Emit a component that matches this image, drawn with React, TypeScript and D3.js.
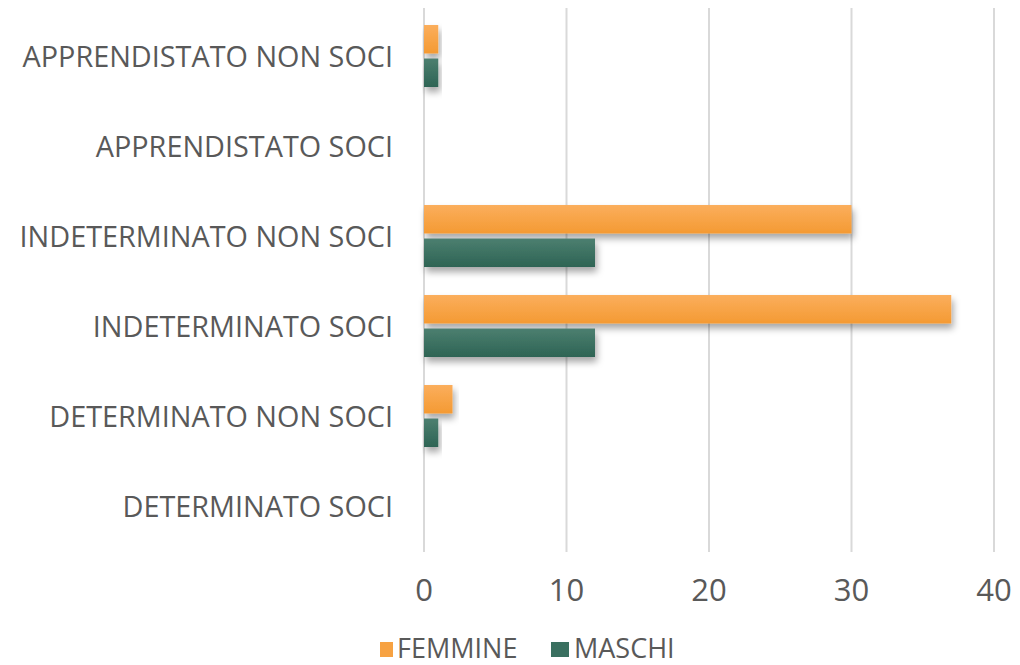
import React from "react";
import * as d3 from "d3";

const categories = [
  "APPRENDISTATO NON SOCI",
  "APPRENDISTATO SOCI",
  "INDETERMINATO NON SOCI",
  "INDETERMINATO SOCI",
  "DETERMINATO NON SOCI",
  "DETERMINATO SOCI",
];
const femmine = [1, 0, 30, 37, 2, 0];
const maschi = [1, 0, 12, 12, 1, 0];
const seriesNames = ["FEMMINE", "MASCHI"];
const xTicks = [0, 10, 20, 30, 40];

const W = 1020;
const H = 665;
const FONT = "'Open Sans', 'DejaVu Sans Condensed', sans-serif";
const TEXT = "#595959";

export default function App() {
  const x = d3.scaleLinear().domain([0, 40]).range([424, 994]);
  const y = d3.scaleBand<string>().domain(categories).range([12, 552]);
  // two bars of ~28px with a 5px gap inside each 90px band
  const inner = d3
    .scaleBand<string>()
    .domain(seriesNames)
    .range([13, 75])
    .paddingInner(0.15);

  const series = [
    { name: "FEMMINE", values: femmine, fill: "url(#gOrange)", key: "#f7a242" },
    { name: "MASCHI", values: maschi, fill: "url(#gGreen)", key: "#3a7060" },
  ];

  return (
    <svg
      width={W}
      height={H}
      style={{ position: "absolute", left: 0, top: 0, background: "#fff" }}
    >
      <defs>
        <linearGradient id="gOrange" x1="0" y1="0" x2="0" y2="1">
          <stop offset="0" stopColor="#fbae5c" />
          <stop offset="1" stopColor="#f49a33" />
        </linearGradient>
        <linearGradient id="gGreen" x1="0" y1="0" x2="0" y2="1">
          <stop offset="0" stopColor="#4c7f70" />
          <stop offset="1" stopColor="#2e6454" />
        </linearGradient>
        <filter id="shadow" x="-10%" y="-30%" width="130%" height="190%">
          <feDropShadow dx="2" dy="5" stdDeviation="3.5" floodColor="#000" floodOpacity="0.35" />
        </filter>
      </defs>

      {/* grid */}
      {xTicks.map((t) => (
        <line
          key={"g" + t}
          x1={x(t)}
          x2={x(t)}
          y1={8}
          y2={552}
          stroke="#d9d9d9"
          strokeWidth={2}
        />
      ))}

      {/* bars */}
      {categories.map((c, i) => (
        <g key={c}>
          {series.map((s) =>
            s.values[i] > 0 ? (
              <rect
                key={s.name}
                x={x(0)}
                y={(y(c) as number) + (inner(s.name) as number)}
                width={x(s.values[i]) - x(0)}
                height={inner.bandwidth()}
                fill={s.fill}
                filter="url(#shadow)"
              />
            ) : null
          )}
        </g>
      ))}

      {/* category labels */}
      {categories.map((c) => (
        <text
          key={"l" + c}
          x={393}
          y={(y(c) as number) + y.bandwidth() / 2 + 10}
          textAnchor="end"
          fontFamily={FONT}
          fontSize={28.8}
          fill={TEXT}
        >
          {c}
        </text>
      ))}

      {/* x tick labels */}
      {xTicks.map((t) => (
        <text
          key={"t" + t}
          x={x(t)}
          y={601}
          textAnchor="middle"
          fontFamily={FONT}
          fontSize={31}
          fill={TEXT}
        >
          {t}
        </text>
      ))}

      {/* legend */}
      <rect x={380} y={642} width={13} height={15} fill="#f7a242" />
      <text x={397} y={658} fontFamily={FONT} fontSize={27} fill={TEXT}>
        FEMMINE
      </text>
      <rect x={551} y={642} width={18} height={15} fill="#3a7060" />
      <text x={574} y={658} fontFamily={FONT} fontSize={27} fill={TEXT}>
        MASCHI
      </text>
    </svg>
  );
}
